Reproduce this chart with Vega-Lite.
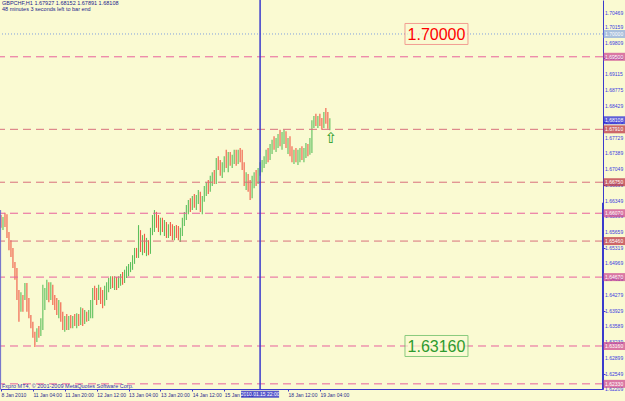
{
"$schema":"https://vega.github.io/schema/vega-lite/v6.json",
"width":603,"height":389,
"autosize":{"type":"none"},
"padding":{"left":0,"top":0,"right":22,"bottom":12},
"background":"#fafad2",
"config":{"view":{"stroke":null},"font":"Liberation Sans","axis":{"labelOverlap":false,"labelFlush":false,"labelBound":false,"grid":false,"title":null}},
"resolve":{"scale":{"color":"independent","stroke":"independent"}},
"datasets":{
"bars":[
{"t":0,"o":1.6592,"h":1.6603,"l":1.6575,"c":1.6581},
{"t":1,"o":1.6583,"h":1.6599,"l":1.6570,"c":1.6594},
{"t":2,"o":1.6594,"h":1.6608,"l":1.6577,"c":1.6588},
{"t":3,"o":1.6588,"h":1.6605,"l":1.6553,"c":1.6557},
{"t":4,"o":1.6557,"h":1.6566,"l":1.6526,"c":1.6535},
{"t":5,"o":1.6535,"h":1.6548,"l":1.6511,"c":1.6526},
{"t":6,"o":1.6526,"h":1.6531,"l":1.6487,"c":1.6494},
{"t":7,"o":1.6494,"h":1.6500,"l":1.6461,"c":1.6469},
{"t":8,"o":1.6469,"h":1.6487,"l":1.6417,"c":1.6423},
{"t":9,"o":1.6423,"h":1.6439,"l":1.6369,"c":1.6382},
{"t":10,"o":1.6399,"h":1.6434,"l":1.6391,"c":1.6426},
{"t":11,"o":1.6421,"h":1.6428,"l":1.6391,"c":1.6399},
{"t":12,"o":1.6421,"h":1.6454,"l":1.6417,"c":1.6448},
{"t":13,"o":1.6448,"h":1.6454,"l":1.6391,"c":1.6399},
{"t":14,"o":1.6406,"h":1.6421,"l":1.6377,"c":1.6384},
{"t":15,"o":1.6382,"h":1.6384,"l":1.6355,"c":1.6362},
{"t":16,"o":1.6362,"h":1.6369,"l":1.6334,"c":1.6340},
{"t":17,"o":1.6340,"h":1.6347,"l":1.6314,"c":1.6320},
{"t":18,"o":1.6329,"h":1.6355,"l":1.6325,"c":1.6351},
{"t":19,"o":1.6351,"h":1.6360,"l":1.6334,"c":1.6340},
{"t":20,"o":1.6342,"h":1.6377,"l":1.6338,"c":1.6373},
{"t":21,"o":1.6373,"h":1.6450,"l":1.6351,"c":1.6439},
{"t":22,"o":1.6406,"h":1.6443,"l":1.6395,"c":1.6434},
{"t":23,"o":1.6428,"h":1.6461,"l":1.6417,"c":1.6452},
{"t":24,"o":1.6452,"h":1.6456,"l":1.6412,"c":1.6421},
{"t":25,"o":1.6423,"h":1.6456,"l":1.6417,"c":1.6448},
{"t":26,"o":1.6445,"h":1.6450,"l":1.6406,"c":1.6412},
{"t":27,"o":1.6412,"h":1.6428,"l":1.6395,"c":1.6404},
{"t":28,"o":1.6404,"h":1.6421,"l":1.6384,"c":1.6391},
{"t":29,"o":1.6395,"h":1.6417,"l":1.6377,"c":1.6410},
{"t":30,"o":1.6408,"h":1.6412,"l":1.6369,"c":1.6377},
{"t":31,"o":1.6377,"h":1.6391,"l":1.6351,"c":1.6358},
{"t":32,"o":1.6360,"h":1.6382,"l":1.6347,"c":1.6373},
{"t":33,"o":1.6373,"h":1.6386,"l":1.6351,"c":1.6360},
{"t":34,"o":1.6360,"h":1.6382,"l":1.6351,"c":1.6377},
{"t":35,"o":1.6377,"h":1.6384,"l":1.6355,"c":1.6364},
{"t":36,"o":1.6364,"h":1.6382,"l":1.6355,"c":1.6377},
{"t":37,"o":1.6377,"h":1.6386,"l":1.6360,"c":1.6369},
{"t":38,"o":1.6369,"h":1.6388,"l":1.6355,"c":1.6382},
{"t":39,"o":1.6382,"h":1.6386,"l":1.6360,"c":1.6366},
{"t":40,"o":1.6369,"h":1.6401,"l":1.6362,"c":1.6395},
{"t":41,"o":1.6395,"h":1.6399,"l":1.6360,"c":1.6369},
{"t":42,"o":1.6371,"h":1.6395,"l":1.6364,"c":1.6388},
{"t":43,"o":1.6388,"h":1.6391,"l":1.6369,"c":1.6375},
{"t":44,"o":1.6377,"h":1.6395,"l":1.6371,"c":1.6391},
{"t":45,"o":1.6391,"h":1.6417,"l":1.6377,"c":1.6412},
{"t":46,"o":1.6412,"h":1.6443,"l":1.6377,"c":1.6439},
{"t":47,"o":1.6439,"h":1.6448,"l":1.6417,"c":1.6426},
{"t":48,"o":1.6426,"h":1.6443,"l":1.6406,"c":1.6412},
{"t":49,"o":1.6417,"h":1.6450,"l":1.6417,"c":1.6443},
{"t":50,"o":1.6443,"h":1.6445,"l":1.6408,"c":1.6417},
{"t":51,"o":1.6417,"h":1.6439,"l":1.6399,"c":1.6408},
{"t":52,"o":1.6408,"h":1.6448,"l":1.6404,"c":1.6439},
{"t":53,"o":1.6434,"h":1.6456,"l":1.6417,"c":1.6450},
{"t":54,"o":1.6450,"h":1.6465,"l":1.6434,"c":1.6458},
{"t":55,"o":1.6456,"h":1.6469,"l":1.6441,"c":1.6463},
{"t":56,"o":1.6463,"h":1.6469,"l":1.6443,"c":1.6450},
{"t":57,"o":1.6450,"h":1.6469,"l":1.6439,"c":1.6463},
{"t":58,"o":1.6463,"h":1.6467,"l":1.6439,"c":1.6448},
{"t":59,"o":1.6448,"h":1.6469,"l":1.6443,"c":1.6461},
{"t":60,"o":1.6461,"h":1.6474,"l":1.6448,"c":1.6467},
{"t":61,"o":1.6467,"h":1.6478,"l":1.6450,"c":1.6458},
{"t":62,"o":1.6458,"h":1.6483,"l":1.6454,"c":1.6476},
{"t":63,"o":1.6476,"h":1.6491,"l":1.6465,"c":1.6485},
{"t":64,"o":1.6485,"h":1.6496,"l":1.6469,"c":1.6489},
{"t":65,"o":1.6489,"h":1.6500,"l":1.6478,"c":1.6496},
{"t":66,"o":1.6496,"h":1.6515,"l":1.6483,"c":1.6509},
{"t":67,"o":1.6509,"h":1.6531,"l":1.6496,"c":1.6522},
{"t":68,"o":1.6522,"h":1.6531,"l":1.6509,"c":1.6515},
{"t":69,"o":1.6515,"h":1.6581,"l":1.6509,"c":1.6570},
{"t":70,"o":1.6566,"h":1.6570,"l":1.6522,"c":1.6531},
{"t":71,"o":1.6531,"h":1.6559,"l":1.6515,"c":1.6548},
{"t":72,"o":1.6548,"h":1.6562,"l":1.6520,"c":1.6526},
{"t":73,"o":1.6526,"h":1.6553,"l":1.6513,"c":1.6544},
{"t":74,"o":1.6544,"h":1.6548,"l":1.6515,"c":1.6522},
{"t":75,"o":1.6522,"h":1.6575,"l":1.6518,"c":1.6566},
{"t":76,"o":1.6566,"h":1.6603,"l":1.6559,"c":1.6597},
{"t":77,"o":1.6597,"h":1.6614,"l":1.6566,"c":1.6605},
{"t":78,"o":1.6605,"h":1.6610,"l":1.6575,"c":1.6588},
{"t":79,"o":1.6588,"h":1.6603,"l":1.6566,"c":1.6579},
{"t":80,"o":1.6579,"h":1.6597,"l":1.6559,"c":1.6588},
{"t":81,"o":1.6588,"h":1.6597,"l":1.6566,"c":1.6575},
{"t":82,"o":1.6575,"h":1.6592,"l":1.6557,"c":1.6583},
{"t":83,"o":1.6583,"h":1.6588,"l":1.6553,"c":1.6562},
{"t":84,"o":1.6562,"h":1.6583,"l":1.6553,"c":1.6575},
{"t":85,"o":1.6575,"h":1.6588,"l":1.6557,"c":1.6566},
{"t":86,"o":1.6566,"h":1.6583,"l":1.6548,"c":1.6557},
{"t":87,"o":1.6557,"h":1.6579,"l":1.6548,"c":1.6570},
{"t":88,"o":1.6570,"h":1.6581,"l":1.6553,"c":1.6562},
{"t":89,"o":1.6562,"h":1.6579,"l":1.6548,"c":1.6553},
{"t":90,"o":1.6553,"h":1.6575,"l":1.6544,"c":1.6566},
{"t":91,"o":1.6566,"h":1.6597,"l":1.6557,"c":1.6588},
{"t":92,"o":1.6588,"h":1.6610,"l":1.6579,"c":1.6603},
{"t":93,"o":1.6603,"h":1.6625,"l":1.6592,"c":1.6619},
{"t":94,"o":1.6619,"h":1.6636,"l":1.6605,"c":1.6627},
{"t":95,"o":1.6627,"h":1.6640,"l":1.6610,"c":1.6619},
{"t":96,"o":1.6619,"h":1.6645,"l":1.6614,"c":1.6636},
{"t":97,"o":1.6636,"h":1.6649,"l":1.6619,"c":1.6627},
{"t":98,"o":1.6627,"h":1.6647,"l":1.6614,"c":1.6640},
{"t":99,"o":1.6640,"h":1.6658,"l":1.6627,"c":1.6649},
{"t":100,"o":1.6649,"h":1.6654,"l":1.6610,"c":1.6619},
{"t":101,"o":1.6619,"h":1.6645,"l":1.6605,"c":1.6636},
{"t":102,"o":1.6636,"h":1.6667,"l":1.6632,"c":1.6658},
{"t":103,"o":1.6658,"h":1.6675,"l":1.6645,"c":1.6667},
{"t":104,"o":1.6667,"h":1.6680,"l":1.6649,"c":1.6658},
{"t":105,"o":1.6658,"h":1.6689,"l":1.6654,"c":1.6680},
{"t":106,"o":1.6680,"h":1.6697,"l":1.6667,"c":1.6689},
{"t":107,"o":1.6689,"h":1.6702,"l":1.6671,"c":1.6680},
{"t":108,"o":1.6680,"h":1.6728,"l":1.6671,"c":1.6719},
{"t":109,"o":1.6719,"h":1.6732,"l":1.6702,"c":1.6711},
{"t":110,"o":1.6711,"h":1.6724,"l":1.6689,"c":1.6697},
{"t":111,"o":1.6697,"h":1.6719,"l":1.6684,"c":1.6711},
{"t":112,"o":1.6711,"h":1.6732,"l":1.6697,"c":1.6724},
{"t":113,"o":1.6724,"h":1.6746,"l":1.6706,"c":1.6713},
{"t":114,"o":1.6713,"h":1.6741,"l":1.6697,"c":1.6732},
{"t":115,"o":1.6732,"h":1.6741,"l":1.6711,"c":1.6719},
{"t":116,"o":1.6719,"h":1.6735,"l":1.6706,"c":1.6728},
{"t":117,"o":1.6728,"h":1.6746,"l":1.6715,"c":1.6737},
{"t":118,"o":1.6737,"h":1.6746,"l":1.6711,"c":1.6724},
{"t":119,"o":1.6724,"h":1.6746,"l":1.6715,"c":1.6735},
{"t":120,"o":1.6735,"h":1.6750,"l":1.6719,"c":1.6728},
{"t":121,"o":1.6728,"h":1.6746,"l":1.6702,"c":1.6711},
{"t":122,"o":1.6711,"h":1.6719,"l":1.6667,"c":1.6675},
{"t":123,"o":1.6675,"h":1.6697,"l":1.6658,"c":1.6689},
{"t":124,"o":1.6689,"h":1.6693,"l":1.6654,"c":1.6662},
{"t":125,"o":1.6662,"h":1.6680,"l":1.6636,"c":1.6645},
{"t":126,"o":1.6645,"h":1.6689,"l":1.6640,"c":1.6680},
{"t":127,"o":1.6680,"h":1.6697,"l":1.6662,"c":1.6689},
{"t":128,"o":1.6689,"h":1.6702,"l":1.6667,"c":1.6675},
{"t":129,"o":1.6675,"h":1.6706,"l":1.6671,"c":1.6697},
{"t":130,"o":1.6697,"h":1.6719,"l":1.6689,"c":1.6711},
{"t":131,"o":1.6711,"h":1.6724,"l":1.6697,"c":1.6717},
{"t":132,"o":1.6717,"h":1.6732,"l":1.6706,"c":1.6724},
{"t":133,"o":1.6724,"h":1.6746,"l":1.6715,"c":1.6739},
{"t":134,"o":1.6739,"h":1.6750,"l":1.6719,"c":1.6728},
{"t":135,"o":1.6728,"h":1.6759,"l":1.6724,"c":1.6752},
{"t":136,"o":1.6752,"h":1.6768,"l":1.6737,"c":1.6761},
{"t":137,"o":1.6761,"h":1.6776,"l":1.6746,"c":1.6754},
{"t":138,"o":1.6754,"h":1.6772,"l":1.6741,"c":1.6765},
{"t":139,"o":1.6765,"h":1.6781,"l":1.6750,"c":1.6774},
{"t":140,"o":1.6774,"h":1.6790,"l":1.6754,"c":1.6763},
{"t":141,"o":1.6763,"h":1.6785,"l":1.6746,"c":1.6776},
{"t":142,"o":1.6776,"h":1.6790,"l":1.6759,"c":1.6783},
{"t":143,"o":1.6783,"h":1.6787,"l":1.6750,"c":1.6757},
{"t":144,"o":1.6757,"h":1.6772,"l":1.6737,"c":1.6765},
{"t":145,"o":1.6765,"h":1.6776,"l":1.6732,"c":1.6741},
{"t":146,"o":1.6741,"h":1.6754,"l":1.6719,"c":1.6728},
{"t":147,"o":1.6728,"h":1.6746,"l":1.6715,"c":1.6737},
{"t":148,"o":1.6737,"h":1.6750,"l":1.6719,"c":1.6726},
{"t":149,"o":1.6726,"h":1.6746,"l":1.6713,"c":1.6735},
{"t":150,"o":1.6735,"h":1.6750,"l":1.6719,"c":1.6741},
{"t":151,"o":1.6741,"h":1.6754,"l":1.6724,"c":1.6730},
{"t":152,"o":1.6730,"h":1.6750,"l":1.6719,"c":1.6743},
{"t":153,"o":1.6743,"h":1.6761,"l":1.6728,"c":1.6752},
{"t":154,"o":1.6752,"h":1.6759,"l":1.6732,"c":1.6741},
{"t":155,"o":1.6741,"h":1.6772,"l":1.6735,"c":1.6763},
{"t":156,"o":1.6746,"h":1.6811,"l":1.6739,"c":1.6805},
{"t":157,"o":1.6805,"h":1.6820,"l":1.6794,"c":1.6811},
{"t":158,"o":1.6811,"h":1.6825,"l":1.6798,"c":1.6805},
{"t":159,"o":1.6805,"h":1.6820,"l":1.6794,"c":1.6816},
{"t":160,"o":1.6816,"h":1.6825,"l":1.6798,"c":1.6807},
{"t":161,"o":1.6807,"h":1.6816,"l":1.6790,"c":1.6800},
{"t":162,"o":1.6800,"h":1.6829,"l":1.6794,"c":1.6820},
{"t":163,"o":1.6820,"h":1.6838,"l":1.6803,"c":1.6807},
{"t":164,"o":1.6807,"h":1.6829,"l":1.6792,"c":1.6794},
{"t":165,"o":1.67927,"h":1.68152,"l":1.67891,"c":1.68108}
],
"levels":[
{"p":1.70000,"kind":"dot"},
{"p":1.69500,"kind":"pink"},
{"p":1.68108,"kind":"bid"},
{"p":1.67910,"kind":"red"},
{"p":1.66750,"kind":"red"},
{"p":1.66070,"kind":"pink"},
{"p":1.65460,"kind":"red"},
{"p":1.64670,"kind":"pink"},
{"p":1.63160,"kind":"pink"},
{"p":1.62330,"kind":"pink"}
],
"yticks":[{"p":1.70469},{"p":1.70159},{"p":1.69809},{"p":1.69465},{"p":1.69115},{"p":1.68775},{"p":1.68429},{"p":1.68079},{"p":1.67729},{"p":1.67389},{"p":1.67049},{"p":1.66699},{"p":1.66349},{"p":1.65999},{"p":1.65659},{"p":1.65319},{"p":1.64969},{"p":1.64619},{"p":1.64279},{"p":1.63929},{"p":1.63589},{"p":1.63239},{"p":1.62899},{"p":1.62549},{"p":1.62209}],
"notes":[{"p":1.70000,"tone":"above"},{"p":1.63160,"tone":"below"}],
"sep":[{"t":130,"time":"2010.01.15 22:00"}],
"info":[{"text":["GBPCHF,H1  1.67927 1.68152 1.67891 1.68108","48 minutes 3 seconds left to bar end"]}],
"credit":[{"text":"Fxpro MT4, © 2001-2009 MetaQuotes Software Corp."}]
},
"layer":[
{"data":{"name":"bars"},
 "mark":{"type":"rule","strokeWidth":1.1},
 "encoding":{
  "x":{"field":"t","type":"quantitative","scale":{"domain":[-0.5,302.05],"nice":false,"zero":false},
   "axis":{"values":[0,16,32,48,64,80,96,112,144,160],
    "labelExpr":"datum.value==0?'8 Jan 2010':datum.value==16?'11 Jan 04:00':datum.value==32?'11 Jan 20:00':datum.value==48?'12 Jan 12:00':datum.value==64?'13 Jan 04:00':datum.value==80?'13 Jan 20:00':datum.value==96?'14 Jan 12:00':datum.value==112?'15 Jan 04:00':datum.value==144?'18 Jan 12:00':'19 Jan 04:00'",
    "labelAlign":"left","labelFontSize":5,"labelColor":"#2b2b8c","tickColor":"#3a3acc","tickSize":2,"domainColor":"#3a3acc","labelPadding":1}},
  "y":{"field":"l","type":"quantitative","scale":{"domain":[1.62217,1.70745],"nice":false,"zero":false},
   "axis":{"orient":"right","values":[1.70469,1.70159,1.69809,1.69465,1.69115,1.68775,1.68429,1.68079,1.67729,1.67389,1.67049,1.66699,1.66349,1.65999,1.65659,1.65319,1.64969,1.64619,1.64279,1.63929,1.63589,1.63239,1.62899,1.62549,1.62209],
    "labels":false,"tickColor":"#3a3acc","tickSize":2,"domainColor":"#3a3acc"}},
  "y2":{"field":"h"},
  "color":{"condition":{"test":"datum.c >= datum.o","value":"#5cbf5c"},"value":"#f05a46"}
 }},
{"data":{"name":"levels"},
 "transform":[{"filter":"datum.kind=='pink'||datum.kind=='red'"}],
 "mark":{"type":"rule","strokeDash":[8,5],"strokeWidth":1},
 "encoding":{"y":{"field":"p","type":"quantitative"},
  "color":{"field":"kind","type":"nominal","scale":{"domain":["pink","red"],"range":["#e8609c","#d8707c"]},"legend":null}}},
{"data":{"name":"levels"},
 "transform":[{"filter":"datum.kind=='dot'"}],
 "mark":{"type":"rule","strokeDash":[1,2],"strokeWidth":1,"color":"#7f9fdf"},
 "encoding":{"y":{"field":"p","type":"quantitative"}}},
{"data":{"name":"sep"},
 "mark":{"type":"rule","strokeWidth":1.5,"color":"#3a3acc"},
 "encoding":{"x":{"field":"t","type":"quantitative"}}},
{"data":{"values":[{}]},
 "mark":{"type":"rule","strokeWidth":1,"color":"#6a6acc"},
 "encoding":{"x":{"datum":-0.2,"type":"quantitative"},"y":{"datum":1.6614,"type":"quantitative"},"y2":{"datum":1.62217}}},
{"data":{"values":[{}]},
 "mark":{"type":"rule","strokeWidth":2,"color":"#3a3acc"},
 "encoding":{"x":{"datum":302.05,"type":"quantitative"},"y":{"datum":1.6630,"type":"quantitative"},"y2":{"datum":1.62217}}},
{"data":{"name":"yticks"},
 "mark":{"type":"text","fontSize":5,"align":"left","baseline":"middle","color":"#3a3ae0"},
 "encoding":{"x":{"datum":303.1,"type":"quantitative"},"y":{"field":"p","type":"quantitative"},
  "text":{"field":"p","type":"quantitative","format":".5f"}}},
{"data":{"name":"notes"},
 "mark":{"type":"tick","orient":"horizontal","size":63,"thickness":21,"fill":"#fafad2","strokeWidth":1},
 "encoding":{"x":{"datum":218.5,"type":"quantitative"},"y":{"field":"p","type":"quantitative"},
  "stroke":{"field":"tone","type":"nominal","scale":{"domain":["above","below"],"range":["#f07878","#5cb85c"]},"legend":null}}},
{"data":{"name":"notes"},
 "mark":{"type":"text","fontSize":16,"align":"center","baseline":"middle","font":"Liberation Sans","dy":1},
 "encoding":{"x":{"datum":218.5,"type":"quantitative"},"y":{"field":"p","type":"quantitative"},
  "text":{"field":"p","type":"quantitative","format":".5f"},
  "color":{"field":"tone","type":"nominal","scale":{"domain":["above","below"],"range":["#ff0000","#2e9a2e"]},"legend":null}}},
{"data":{"name":"levels"},
 "mark":{"type":"tick","orient":"horizontal","size":22,"thickness":8},
 "encoding":{"x":{"datum":307.8,"type":"quantitative"},"y":{"field":"p","type":"quantitative"},
  "color":{"field":"kind","type":"nominal","scale":{"domain":["dot","pink","red","bid"],"range":["#86a6e0","#cc3f8f","#b8283c","#1c1cd8"]},"legend":null}}},
{"data":{"name":"levels"},
 "mark":{"type":"text","fontSize":5,"align":"left","baseline":"middle","color":"#ffffff"},
 "encoding":{"x":{"datum":303.1,"type":"quantitative"},"y":{"field":"p","type":"quantitative"},
  "text":{"field":"p","type":"quantitative","format":".5f"}}},
{"data":{"name":"sep"},
 "mark":{"type":"tick","orient":"horizontal","size":38,"thickness":7,"color":"#1414c8"},
 "encoding":{"x":{"field":"t","type":"quantitative"},"y":{"datum":1.6210,"type":"quantitative"}}},
{"data":{"name":"sep"},
 "mark":{"type":"text","fontSize":5,"align":"center","baseline":"middle","color":"#ffffff"},
 "encoding":{"x":{"field":"t","type":"quantitative"},"y":{"datum":1.6210,"type":"quantitative"},"text":{"field":"time"}}},
{"data":{"values":[{"t":165,"sym":"⇧"}]},
 "mark":{"type":"text","fontSize":15,"font":"DejaVu Sans","align":"center","baseline":"middle","color":"#229922"},
 "encoding":{"x":{"datum":165.6,"type":"quantitative"},"y":{"datum":1.6773,"type":"quantitative"},"text":{"field":"sym"}}},
{"data":{"name":"info"},
 "mark":{"type":"text","fontSize":5.5,"lineHeight":6.3,"align":"left","baseline":"top","color":"#23238c","dx":2,"dy":1},
 "encoding":{"x":{"datum":-0.5,"type":"quantitative"},"y":{"datum":1.70745,"type":"quantitative"},"text":{"field":"text"}}},
{"data":{"name":"credit"},
 "mark":{"type":"text","fontSize":5.5,"align":"left","baseline":"bottom","color":"#3333aa","dx":2,"dy":-0.5},
 "encoding":{"x":{"datum":-0.5,"type":"quantitative"},"y":{"datum":1.62217,"type":"quantitative"},"text":{"field":"text"}}}
]
}
